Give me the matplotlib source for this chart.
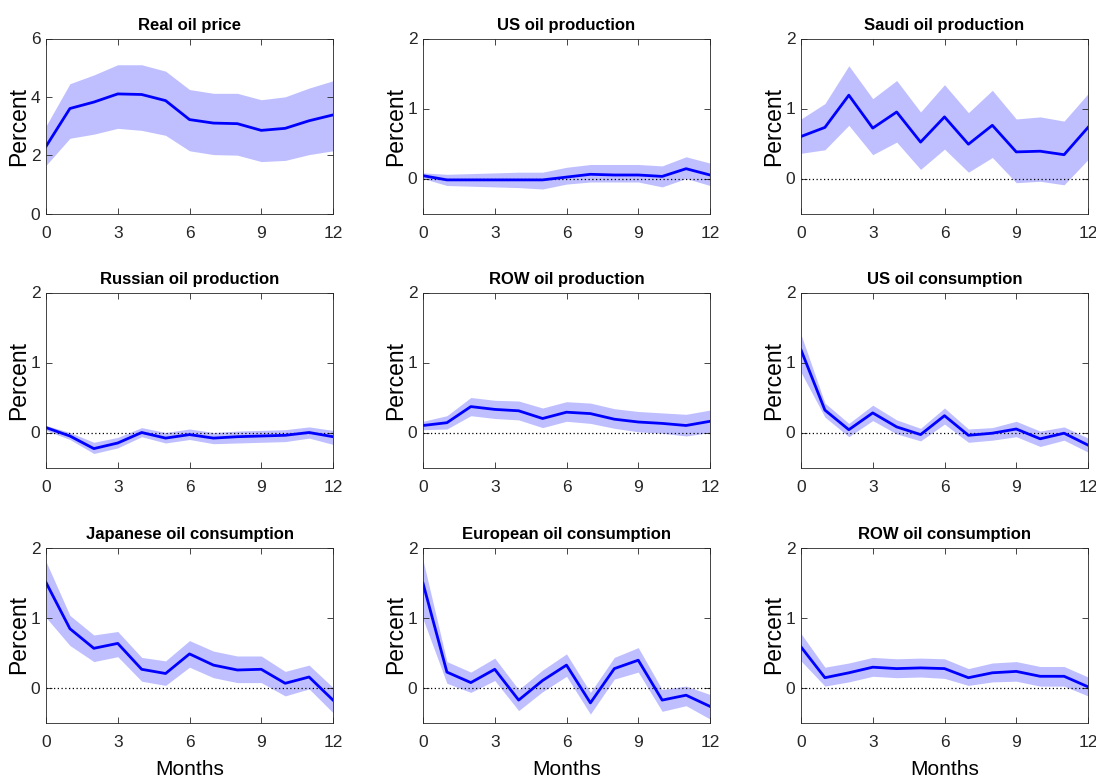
import matplotlib
matplotlib.use("Agg")
import matplotlib.pyplot as plt
import numpy as np

plt.rcParams['font.family'] = ['Liberation Sans', 'DejaVu Sans']

months = list(range(13))

titles = ["Real oil price", "US oil production", "Saudi oil production",
          "Russian oil production", "ROW oil production", "US oil consumption",
          "Japanese oil consumption", "European oil consumption", "ROW oil consumption"]

oil_price_med = [2.3, 3.6, 3.82, 4.1, 4.08, 3.87, 3.22, 3.1, 3.08, 2.85, 2.92, 3.18, 3.38]
oil_price_hi = [3.0, 4.45, 4.75, 5.1, 5.1, 4.88, 4.25, 4.12, 4.12, 3.9, 4.0, 4.3, 4.55]
oil_price_lo = [1.65, 2.58, 2.72, 2.92, 2.85, 2.68, 2.15, 2.02, 2.0, 1.78, 1.82, 2.02, 2.15]

us_prod_med = [0.04, -0.02, -0.02, -0.02, -0.02, -0.02, 0.02, 0.06, 0.05, 0.05, 0.03, 0.14, 0.05]
us_prod_hi = [0.08, 0.06, 0.07, 0.08, 0.09, 0.09, 0.16, 0.2, 0.2, 0.2, 0.18, 0.31, 0.22]
us_prod_lo = [0.0, -0.1, -0.11, -0.12, -0.13, -0.15, -0.08, -0.05, -0.05, -0.05, -0.12, 0.0, -0.1]

saudi_prod_med = [0.6, 0.73, 1.19, 0.72, 0.95, 0.52, 0.88, 0.49, 0.76, 0.38, 0.39, 0.34, 0.73]
saudi_prod_hi = [0.85, 1.07, 1.61, 1.14, 1.4, 0.95, 1.34, 0.94, 1.26, 0.85, 0.88, 0.82, 1.21]
saudi_prod_lo = [0.36, 0.41, 0.76, 0.34, 0.52, 0.13, 0.42, 0.09, 0.3, -0.06, -0.04, -0.09, 0.27]

russia_prod_med = [0.07, -0.05, -0.23, -0.15, 0.0, -0.08, -0.03, -0.08, -0.06, -0.05, -0.04, 0.0, -0.06]
russia_prod_hi = [0.1, 0.0, -0.14, -0.07, 0.07, 0.0, 0.05, 0.0, 0.02, 0.03, 0.04, 0.08, 0.03]
russia_prod_lo = [0.03, -0.1, -0.3, -0.22, -0.06, -0.15, -0.1, -0.16, -0.15, -0.14, -0.13, -0.08, -0.17]

row_prod_med = [0.1, 0.14, 0.37, 0.33, 0.31, 0.2, 0.29, 0.27, 0.19, 0.15, 0.13, 0.1, 0.16]
row_prod_hi = [0.16, 0.24, 0.5, 0.46, 0.45, 0.35, 0.44, 0.42, 0.34, 0.3, 0.28, 0.26, 0.32]
row_prod_lo = [0.04, 0.05, 0.24, 0.2, 0.18, 0.07, 0.16, 0.13, 0.06, 0.01, -0.01, -0.05, 0.0]

us_cons_med = [1.18, 0.32, 0.04, 0.28, 0.08, -0.03, 0.24, -0.04, -0.01, 0.05, -0.09, -0.01, -0.18]
us_cons_hi = [1.4, 0.42, 0.13, 0.39, 0.18, 0.06, 0.35, 0.05, 0.07, 0.16, 0.02, 0.08, -0.08]
us_cons_lo = [0.86, 0.22, -0.06, 0.17, -0.02, -0.12, 0.12, -0.14, -0.11, -0.06, -0.2, -0.11, -0.28]

jp_cons_med = [1.5, 0.84, 0.56, 0.63, 0.26, 0.2, 0.48, 0.32, 0.25, 0.26, 0.06, 0.15, -0.18]
jp_cons_hi = [1.8, 1.03, 0.75, 0.8, 0.43, 0.38, 0.67, 0.52, 0.45, 0.45, 0.23, 0.32, 0.0]
jp_cons_lo = [1.0, 0.6, 0.37, 0.44, 0.09, 0.03, 0.29, 0.14, 0.07, 0.07, -0.12, -0.02, -0.36]

eu_cons_med = [1.49, 0.22, 0.07, 0.26, -0.18, 0.1, 0.32, -0.22, 0.27, 0.39, -0.18, -0.11, -0.27]
eu_cons_hi = [1.82, 0.37, 0.22, 0.42, -0.03, 0.25, 0.48, -0.07, 0.43, 0.57, -0.03, 0.02, -0.1]
eu_cons_lo = [0.98, 0.06, -0.07, 0.1, -0.33, -0.06, 0.16, -0.38, 0.12, 0.22, -0.34, -0.26, -0.45]

row_cons_med = [0.58, 0.14, 0.21, 0.29, 0.27, 0.28, 0.27, 0.14, 0.21, 0.23, 0.16, 0.16, 0.01]
row_cons_hi = [0.77, 0.29, 0.35, 0.43, 0.41, 0.42, 0.41, 0.27, 0.35, 0.37, 0.3, 0.3, 0.15]
row_cons_lo = [0.38, 0.02, 0.08, 0.16, 0.14, 0.15, 0.13, 0.03, 0.08, 0.09, 0.02, 0.02, -0.12]

series = [
    (oil_price_med, oil_price_lo, oil_price_hi),
    (us_prod_med, us_prod_lo, us_prod_hi),
    (saudi_prod_med, saudi_prod_lo, saudi_prod_hi),
    (russia_prod_med, russia_prod_lo, russia_prod_hi),
    (row_prod_med, row_prod_lo, row_prod_hi),
    (us_cons_med, us_cons_lo, us_cons_hi),
    (jp_cons_med, jp_cons_lo, jp_cons_hi),
    (eu_cons_med, eu_cons_lo, eu_cons_hi),
    (row_cons_med, row_cons_lo, row_cons_hi),
]

fig = plt.figure(figsize=(10.96, 7.82), dpi=100)
W, H = 1096.0, 782.0
lefts = [46, 423, 801]
tops = [38.5, 292.5, 547.5]
aw, ah = 287, 175

for i, (title, (med, lo, hi)) in enumerate(zip(titles, series)):
    r, c = divmod(i, 3)
    ax = fig.add_axes([lefts[c] / W, 1 - (tops[r] + ah) / H, aw / W, ah / H])
    ax.fill_between(months, lo, hi, color='#bfbfff', linewidth=0)
    if i != 0:
        ax.axhline(0, color='black', linestyle=(0, (1, 2)), linewidth=0.9)
    ax.plot(months, med, color='#0000ff', linewidth=2.0)
    ax.set_xlim(0, 12)
    ax.set_xticks([0, 3, 6, 9, 12])
    if i == 0:
        ax.set_ylim(0, 6)
        ax.set_yticks([0, 2, 4, 6])
    else:
        ax.set_ylim(-0.5, 2)
        ax.set_yticks([0, 1, 2])
    ax.tick_params(direction='in', top=True, right=True, labelsize=12.5,
                   length=4, width=0.6, colors='#262626')
    ax.tick_params(axis='x', pad=9)
    ax.tick_params(axis='y', pad=4)
    for sp in ax.spines.values():
        sp.set_linewidth(0.6)
        sp.set_color('#262626')
    ax.set_title(title, fontsize=12, fontweight='bold', pad=6)
    ax.set_ylabel('Percent', fontsize=16.5)
    ax.yaxis.set_label_coords(-0.055, 0.5)
    if r == 2:
        ax.set_xlabel('Months', fontsize=15, labelpad=7)

fig.savefig('out.png', dpi=100)
